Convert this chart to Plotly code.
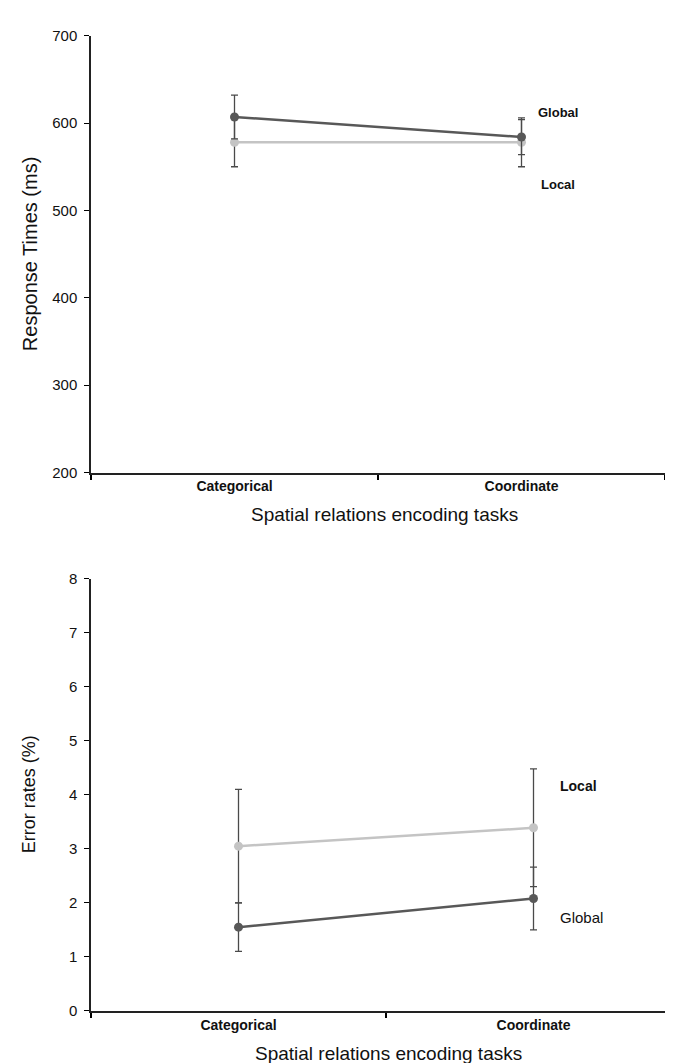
import plotly.graph_objects as go

W, H = 673, 1063

# ---- data ----
tasks = ["Categorical", "Coordinate"]

rt_global = [607, 584]
rt_global_err = [25, 20]
rt_local = [578, 578]
rt_local_err = [28, 28]

er_global = [1.55, 2.08]
er_global_err = [0.45, 0.58]
er_local = [3.05, 3.39]
er_local_err = [1.05, 1.09]

rt_ticks = [200, 300, 400, 500, 600, 700]
er_ticks = [0, 1, 2, 3, 4, 5, 6, 7, 8]

DARK = "#585858"
LIGHT = "#c4c4c4"
ERR = "#4a4a4a"
FONT = "Liberation Sans, Arial, sans-serif"

fig = go.Figure()


def add_series(y, err, color, xa, ya):
    fig.add_trace(go.Scatter(
        x=tasks, y=y, mode="lines+markers",
        line=dict(color=color, width=2.5),
        marker=dict(color=color, size=9),
        error_y=dict(type="data", array=err, color=ERR, thickness=1.3, width=3.5),
        xaxis=xa, yaxis=ya, showlegend=False, hoverinfo="skip",
    ))


add_series(rt_local, rt_local_err, LIGHT, "x", "y")
add_series(rt_global, rt_global_err, DARK, "x", "y")
add_series(er_local, er_local_err, LIGHT, "x2", "y2")
add_series(er_global, er_global_err, DARK, "x2", "y2")


def px_x(p):
    return p / W


def px_y(p):
    return 1 - p / H


common_x = dict(type="category", tickson="boundaries", ticks="outside", ticklen=5,
                tickwidth=1.5, tickcolor="black", showline=True, linecolor="#222",
                linewidth=2, showgrid=False, zeroline=False, range=[-0.5, 1.5],
                tickfont=dict(family=FONT, size=14, color="#111", weight="bold"))
common_y = dict(ticks="outside", ticklen=5, tickwidth=1.3, tickcolor="black",
                showline=True, linecolor="#222", linewidth=1.5, showgrid=False,
                zeroline=False, tickfont=dict(family=FONT, size=15, color="#111"),
                ticklabelstandoff=4)

fig.update_layout(
    width=W, height=H, margin=dict(l=0, r=0, t=0, b=0),
    paper_bgcolor="white", plot_bgcolor="white",
    xaxis=dict(domain=[px_x(83), px_x(657)], anchor="y", **common_x),
    yaxis=dict(domain=[px_y(463), px_y(19)], anchor="x", range=[200, 700],
               tickvals=rt_ticks, **common_y),
    xaxis2=dict(domain=[px_x(83), 1.0], anchor="y2", **common_x),
    yaxis2=dict(domain=[px_y(1010), px_y(571)], anchor="x2", range=[0, 8],
                tickvals=er_ticks, **common_y),
)

ann = []
# axis titles
ann.append(dict(text="Response Times (ms)", x=px_x(22), y=px_y(241), xref="paper", yref="paper",
                textangle=-90, showarrow=False, font=dict(family=FONT, size=20, color="#111"),
                xanchor="center", yanchor="middle"))
ann.append(dict(text="Spatial relations encoding tasks", x=px_x(376), y=px_y(506), xref="paper",
                yref="paper", showarrow=False, font=dict(family=FONT, size=19, color="#111"),
                xanchor="center", yanchor="middle"))
ann.append(dict(text="Error rates (%)", x=px_x(21), y=px_y(790), xref="paper", yref="paper",
                textangle=-90, showarrow=False, font=dict(family=FONT, size=18, color="#111"),
                xanchor="center", yanchor="middle"))
ann.append(dict(text="Spatial relations encoding tasks", x=px_x(380), y=px_y(1053), xref="paper",
                yref="paper", showarrow=False, font=dict(family=FONT, size=19, color="#111"),
                xanchor="center", yanchor="middle"))
# series labels
ann.append(dict(text="<b>Global</b>", x=1.05, y=612, xref="x", yref="y", showarrow=False,
                xanchor="left", yanchor="middle", font=dict(family=FONT, size=13, color="#111")))
ann.append(dict(text="<b>Local</b>", x=1.06, y=530, xref="x", yref="y", showarrow=False,
                xanchor="left", yanchor="middle", font=dict(family=FONT, size=13, color="#111")))
ann.append(dict(text="<b>Local</b>", x=1.084, y=4.16, xref="x2", yref="y2", showarrow=False,
                xanchor="left", yanchor="middle", font=dict(family=FONT, size=14, color="#111")))
ann.append(dict(text="Global", x=1.084, y=1.72, xref="x2", yref="y2", showarrow=False,
                xanchor="left", yanchor="middle", font=dict(family=FONT, size=15, color="#111")))
fig.update_layout(annotations=ann)

fig.write_html("out.html")
